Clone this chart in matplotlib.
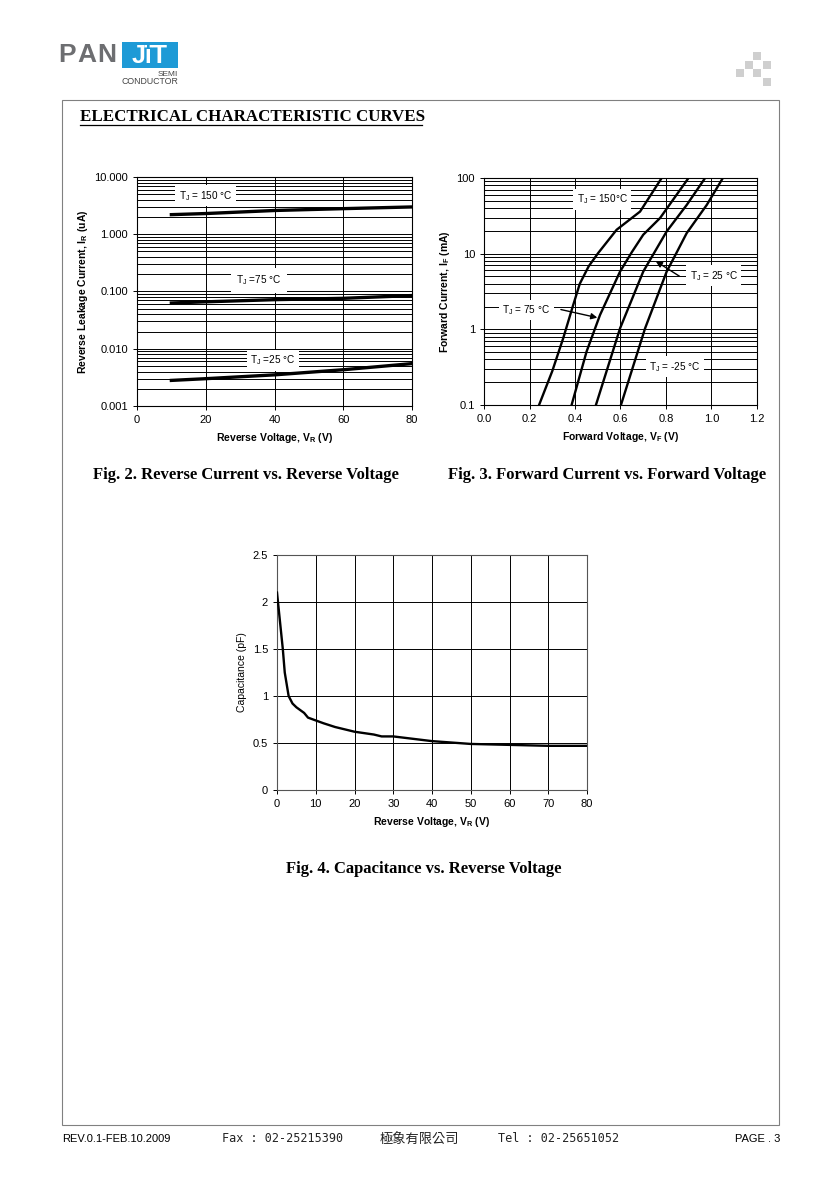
import matplotlib
matplotlib.use("Agg")
import matplotlib.pyplot as plt
from matplotlib.patches import Rectangle
from matplotlib.ticker import FixedLocator, NullFormatter
import numpy as np

plt.rcParams['font.family'] = ['Liberation Sans', 'DejaVu Sans']

# ---------------- data ----------------
# Fig 2: reverse current vs reverse voltage
vr_rev = [10, 20, 40, 60, 80]
ir_150 = [2.2, 2.3, 2.6, 2.8, 3.0]
ir_75 = [0.063, 0.066, 0.072, 0.076, 0.085]
ir_25 = [0.0028, 0.0030, 0.0035, 0.0043, 0.0055]
rev_yticks = [0.001, 0.01, 0.1, 1, 10]
rev_yticklabels = ["0.001", "0.010", "0.100", "1.000", "10.000"]
rev_xticks = [0, 20, 40, 60, 80]

# Fig 3: forward current vs forward voltage
vf_150 = [0.242, 0.300, 0.348, 0.390, 0.421, 0.460, 0.502, 0.583, 0.686, 0.781]
if_150 = [0.1, 0.28, 0.76, 2.0, 4.0, 6.8, 10.2, 20.7, 36, 100]
vf_75 = [0.385, 0.451, 0.510, 0.598, 0.650, 0.700, 0.774, 0.899]
if_75 = [0.1, 0.51, 1.55, 5.8, 10.5, 17.8, 29.6, 100]
vf_25 = [0.492, 0.598, 0.700, 0.750, 0.803, 0.891, 0.972]
if_25 = [0.1, 1.03, 5.8, 10.5, 19.7, 44, 100]
vf_m25 = [0.602, 0.708, 0.803, 0.850, 0.891, 0.979, 1.050]
if_m25 = [0.1, 1.03, 5.8, 10.8, 18.7, 44, 100]
fwd_xticks = [0.0, 0.2, 0.4, 0.6, 0.8, 1.0, 1.2]
fwd_xticklabels = ["0.0", "0.2", "0.4", "0.6", "0.8", "1.0", "1.2"]
fwd_yticks = [0.1, 1, 10, 100]
fwd_yticklabels = ["0.1", "1", "10", "100"]

# Fig 4: capacitance vs reverse voltage
vr_cap = [0, 1, 1.5, 2, 3, 4, 5, 6, 7, 8, 10, 12, 15, 20, 25, 27, 30, 40, 50, 60, 70, 80]
cap = [2.1, 1.7, 1.5, 1.25, 1.0, 0.92, 0.88, 0.85, 0.82, 0.77, 0.74, 0.71, 0.67,
       0.62, 0.59, 0.57, 0.57, 0.52, 0.49, 0.48, 0.47, 0.47]
cap_xticks = [0, 10, 20, 30, 40, 50, 60, 70, 80]
cap_yticks = [0, 0.5, 1, 1.5, 2, 2.5]
cap_yticklabels = ["0", "0.5", "1", "1.5", "2", "2.5"]

# ---------------- figure ----------------
W, H = 840, 1186
fig = plt.figure(figsize=(W / 100, H / 100), dpi=100)
fig.patch.set_facecolor("white")


def fx(x):
    return x / W


def fy(y):
    return 1 - y / H


def ax_rect(l, t, r, b):
    return [fx(l), fy(b), (r - l) / W, (b - t) / H]


# page frame
fig.patches.append(Rectangle((fx(62), fy(1125)), (779 - 62) / W, (1125 - 100) / H,
                             transform=fig.transFigure, fill=False,
                             edgecolor="#808080", lw=0.8))

# logo
for ch, x in zip("PAN", [58, 77, 97]):
    fig.text(fx(x), fy(55), ch, fontsize=19, fontweight="bold", color="#6d6e71",
             ha="left", va="center")
fig.patches.append(Rectangle((fx(122), fy(68)), 56 / W, 26 / H,
                             transform=fig.transFigure, facecolor="#1e9ad6",
                             edgecolor="none"))
fig.text(fx(150), fy(56), "JïT", fontsize=18, fontweight="bold", color="white",
         ha="center", va="center")
fig.text(fx(178), fy(75), "SEMI", fontsize=6, color="#444444", ha="right", va="center")
fig.text(fx(178), fy(82), "CONDUCTOR", fontsize=6.3, color="#444444", ha="right", va="center")

# decorative squares top-right
for (sx, sy) in [(753, 52), (745, 61), (763, 61), (736, 69), (753, 69), (763, 78)]:
    fig.patches.append(Rectangle((fx(sx), fy(sy + 8)), 8 / W, 8 / H,
                                 transform=fig.transFigure, facecolor="#cfcfcf",
                                 edgecolor="none"))

# section title
fig.text(fx(80), fy(117), "ELECTRICAL CHARACTERISTIC CURVES", fontsize=12.2,
         fontweight="bold", family="Liberation Serif", ha="left", va="center")
fig.lines.append(plt.Line2D([fx(80), fx(422)], [fy(125), fy(125)],
                            transform=fig.transFigure, color="black", lw=0.9))

tick_fs = 8
lab_fs = 7.5
ann_fs = 7.2

# ---------------- Fig 2 ----------------
ax1 = fig.add_axes(ax_rect(137, 177, 412, 406))
ax1.set_yscale("log")
ax1.set_xlim(0, 80)
ax1.set_ylim(0.001, 10)
ax1.set_xticks(rev_xticks)
ax1.set_yticks(rev_yticks)
ax1.set_yticklabels(rev_yticklabels)
ax1.yaxis.set_minor_locator(FixedLocator([m * 10.0 ** e for e in range(-3, 1) for m in range(2, 10)]))
ax1.yaxis.set_minor_formatter(NullFormatter())
ax1.grid(True, which="both", axis="y", color="black", lw=0.7)
ax1.grid(True, which="major", axis="x", color="black", lw=0.7)
ax1.tick_params(which="minor", length=0)
ax1.tick_params(which="major", length=3, labelsize=tick_fs, width=0.7)
ax1.plot(vr_rev, ir_150, color="black", lw=2.4, zorder=3)
ax1.plot(vr_rev, ir_75, color="black", lw=2.4, zorder=3)
ax1.plot(vr_rev, ir_25, color="black", lw=2.4, zorder=3)
box = dict(facecolor="white", edgecolor="none", pad=2.5)
ax1.text(20, 4.7, r"T$_\mathregular{J}$ = 150 °C", fontsize=ann_fs, ha="center", va="center", bbox=box, zorder=4)
ax1.text(35.5, 0.158, r"T$_\mathregular{J}$ =75 °C", fontsize=ann_fs, ha="center", va="center",
         bbox=dict(facecolor="white", edgecolor="none", pad=4), zorder=4)
ax1.text(39.5, 0.0063, r"T$_\mathregular{J}$ =25 °C", fontsize=ann_fs, ha="center", va="center", bbox=box, zorder=4)
ax1.set_xlabel(r"Reverse Voltage, V$_\mathregular{R}$ (V)", fontsize=lab_fs, fontweight="bold", labelpad=4)
ax1.set_ylabel(r"Reverse Leakage Current, I$_\mathregular{R}$ (uA)", fontsize=lab_fs, fontweight="bold", labelpad=3)
for s in ax1.spines.values():
    s.set_linewidth(0.8)

# ---------------- Fig 3 ----------------
ax2 = fig.add_axes(ax_rect(484, 178, 757, 405))
ax2.set_yscale("log")
ax2.set_xlim(0, 1.2)
ax2.set_ylim(0.1, 100)
ax2.set_xticks(fwd_xticks)
ax2.set_xticklabels(fwd_xticklabels)
ax2.set_yticks(fwd_yticks)
ax2.set_yticklabels(fwd_yticklabels)
ax2.yaxis.set_minor_locator(FixedLocator([m * 10.0 ** e for e in range(-1, 2) for m in range(2, 10)]))
ax2.yaxis.set_minor_formatter(NullFormatter())
ax2.grid(True, which="both", axis="y", color="black", lw=0.7)
ax2.grid(True, which="major", axis="x", color="black", lw=0.7)
ax2.tick_params(which="minor", length=0)
ax2.tick_params(which="major", length=3, labelsize=tick_fs, width=0.7)
for vv, ii in [(vf_150, if_150), (vf_75, if_75), (vf_25, if_25), (vf_m25, if_m25)]:
    ax2.plot(vv, ii, color="black", lw=1.7, zorder=3, solid_joinstyle="round")
ax2.text(0.52, 52, r"T$_\mathregular{J}$ = 150°C", fontsize=ann_fs, ha="center", va="center", bbox=box, zorder=4)
ax2.text(1.01, 5.1, r"T$_\mathregular{J}$ = 25 °C", fontsize=ann_fs, ha="center", va="center", bbox=box, zorder=4)
ax2.text(0.186, 1.8, r"T$_\mathregular{J}$ = 75 °C", fontsize=ann_fs, ha="center", va="center", bbox=box, zorder=4)
ax2.text(0.84, 0.32, r"T$_\mathregular{J}$ = -25 °C", fontsize=ann_fs, ha="center", va="center", bbox=box, zorder=4)
arr = dict(arrowstyle="-|>", color="black", lw=1.0, mutation_scale=9)
ax2.annotate("", xy=(0.745, 8.3), xytext=(0.87, 4.8), arrowprops=arr, zorder=5)
ax2.annotate("", xy=(0.51, 1.4), xytext=(0.326, 1.86), arrowprops=arr, zorder=5)
ax2.set_xlabel(r"Forward Voltage, V$_\mathregular{F}$ (V)", fontsize=lab_fs, fontweight="bold", labelpad=4)
ax2.set_ylabel(r"Forward Current, I$_\mathregular{F}$ (mA)", fontsize=lab_fs, fontweight="bold", labelpad=3)
for s in ax2.spines.values():
    s.set_linewidth(0.8)

# ---------------- Fig 4 ----------------
ax3 = fig.add_axes(ax_rect(277, 555, 587, 790))
ax3.set_xlim(0, 80)
ax3.set_ylim(0, 2.5)
ax3.set_xticks(cap_xticks)
ax3.set_yticks(cap_yticks)
ax3.set_yticklabels(cap_yticklabels)
ax3.grid(True, color="black", lw=0.7)
ax3.tick_params(length=3, labelsize=tick_fs, width=0.7)
ax3.plot(vr_cap, cap, color="black", lw=1.7, zorder=3)
ax3.set_xlabel(r"Reverse Voltage, V$_\mathregular{R}$ (V)", fontsize=lab_fs, fontweight="bold", labelpad=4)
ax3.set_ylabel("Capacitance (pF)", fontsize=lab_fs, labelpad=4)
for s in ax3.spines.values():
    s.set_linewidth(0.8)
    s.set_color("#555555")

# captions
cap_kw = dict(fontsize=12, fontweight="bold", family="Liberation Serif", ha="center", va="center")
fig.text(fx(246), fy(475), "Fig. 2. Reverse Current vs. Reverse Voltage", **cap_kw)
fig.text(fx(607), fy(475), "Fig. 3. Forward Current vs. Forward Voltage", **cap_kw)
fig.text(fx(424), fy(869), "Fig. 4. Capacitance vs. Reverse Voltage", **cap_kw)

# footer
fig.text(fx(62), fy(1139), "REV.0.1-FEB.10.2009", fontsize=8, ha="left", va="center")
fig.text(fx(222), fy(1138), "Fax : 02-25215390", fontsize=8.5, family="DejaVu Sans Mono",
         ha="left", va="center", color="#222222")
fig.text(fx(380), fy(1140), "極象有限公司", fontsize=9.5, family=["Noto Sans CJK TC", "DejaVu Sans"],
         ha="left", va="center", color="#222222")
fig.text(fx(498), fy(1138), "Tel : 02-25651052", fontsize=8.5, family="DejaVu Sans Mono",
         ha="left", va="center", color="#222222")
fig.text(fx(780), fy(1139), "PAGE . 3", fontsize=8, ha="right", va="center")

fig.savefig("out.png", dpi=100, facecolor="white")
